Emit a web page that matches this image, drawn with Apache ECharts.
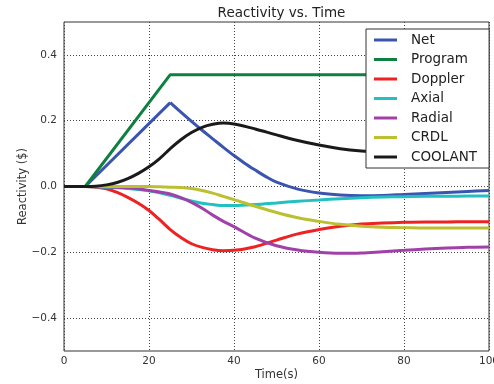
<!DOCTYPE html>
<html>
<head>
<meta charset="utf-8">
<script src="https://cdn.jsdelivr.net/npm/echarts@6/dist/echarts.min.js"></script>
<style>html,body{margin:0;padding:0;background:#fff;}#c{width:494px;height:384px;}</style>
</head>
<body>
<div id="c"></div>
<script>
const seriesNames = ['Net', 'Program', 'Doppler', 'Axial', 'Radial', 'CRDL', 'COOLANT'];
const xTicks = [0, 20, 40, 60, 80, 100];
const yTicks = [-0.4, -0.2, 0.0, 0.2, 0.4];

const tNet = [0, 5, 25, 27.5, 30, 32.5, 35, 37.5, 40, 42.5, 45, 47.5, 50, 55, 60, 65, 70, 75, 80, 85, 90, 95, 100];
const net = [0, 0, 0.255, 0.226, 0.198, 0.171, 0.145, 0.119, 0.094, 0.071, 0.05, 0.03, 0.013, -0.008, -0.02, -0.026, -0.028, -0.027, -0.024, -0.021, -0.018, -0.015, -0.012];

const tProgram = [0, 5, 25, 100];
const program = [0, 0, 0.34, 0.34];

const t = [0, 5, 7.5, 10, 12.5, 15, 17.5, 20, 22.5, 25, 27.5, 30, 32.5, 35, 37.5, 40, 45, 50, 55, 60, 65, 70, 75, 80, 85, 90, 95, 100];
const doppler = [0, 0, -0.002, -0.007, -0.018, -0.033, -0.051, -0.073, -0.101, -0.131, -0.155, -0.174, -0.185, -0.192, -0.195, -0.194, -0.183, -0.163, -0.144, -0.131, -0.121, -0.114, -0.111, -0.109, -0.108, -0.108, -0.107, -0.107];
const axial = [0, 0, -0.001, -0.002, -0.004, -0.006, -0.009, -0.013, -0.019, -0.027, -0.036, -0.044, -0.051, -0.055, -0.058, -0.058, -0.055, -0.05, -0.045, -0.041, -0.037, -0.034, -0.032, -0.031, -0.03, -0.03, -0.029, -0.029];
const radial = [0, 0, 0, -0.001, -0.002, -0.004, -0.007, -0.012, -0.017, -0.023, -0.034, -0.048, -0.066, -0.087, -0.106, -0.122, -0.157, -0.18, -0.193, -0.2, -0.203, -0.202, -0.198, -0.194, -0.19, -0.187, -0.185, -0.184];
const crdl = [0, 0, 0, 0, 0, 0, 0, 0, -0.001, -0.002, -0.003, -0.006, -0.012, -0.02, -0.03, -0.04, -0.06, -0.079, -0.095, -0.106, -0.115, -0.121, -0.124, -0.125, -0.126, -0.126, -0.126, -0.126];
const coolant = [0, 0, 0.001, 0.005, 0.012, 0.024, 0.04, 0.06, 0.085, 0.115, 0.142, 0.164, 0.18, 0.189, 0.193, 0.19, 0.175, 0.157, 0.14, 0.126, 0.115, 0.108, 0.104, 0.101, 0.099, 0.098, 0.097, 0.096];

const colors = ['#3a55b0', '#108040', '#ee2222', '#22c0c0', '#a040a8', '#bcc030', '#1a1a1a'];

function pairs(xs, ys) { return xs.map((x, i) => [x, ys[i]]); }

// Net: straight ramp up to the peak at t=25, smooth decay afterwards
const netRise = pairs(tNet.slice(0, 3), net.slice(0, 3));
const netFall = pairs(tNet.slice(2), net.slice(2));

const dataSets = [
  netRise, pairs(tProgram, program), pairs(t, doppler), pairs(t, axial),
  pairs(t, radial), pairs(t, crdl), pairs(t, coolant)
];
const smoothFlags = [false, false, 0.35, 0.35, 0.35, 0.35, 0.35];

const font = 'DejaVu Sans';
const series = seriesNames.map((name, i) => ({
  name: name, type: 'line', data: dataSets[i],
  smooth: smoothFlags[i], showSymbol: false, symbol: 'none',
  lineStyle: {width: 3, color: colors[i]}, itemStyle: {color: colors[i]}
}));
series.splice(1, 0, {
  name: 'Net', type: 'line', data: netFall, smooth: 0.35, showSymbol: false, symbol: 'none',
  lineStyle: {width: 3, color: colors[0]}, itemStyle: {color: colors[0]}
});

const chart = echarts.init(document.getElementById('c'), null, {renderer: 'canvas'});
chart.setOption({
  animation: false,
  backgroundColor: '#fff',
  color: colors,
  title: {
    text: 'Reactivity vs. Time',
    left: 276.5, top: 1, textAlign: 'center',
    textStyle: {fontFamily: font, fontSize: 13.5, fontWeight: 'normal', color: '#222'}
  },
  legend: {
    data: seriesNames,
    orient: 'vertical',
    left: 366, top: 29,
    padding: [3, 12, 3, 8],
    itemWidth: 23, itemHeight: 3, itemGap: 3.5,
    icon: 'rect',
    backgroundColor: '#fff', borderColor: '#333', borderWidth: 1, borderRadius: 0,
    textStyle: {fontFamily: font, fontSize: 13.5, lineHeight: 16, color: '#222', padding: [0, 0, 0, 9]}
  },
  grid: {
    left: 64, right: 5, top: 22, bottom: 33,
    outerBoundsMode: 'none', containLabel: false,
    show: true, borderColor: '#333', borderWidth: 1, backgroundColor: 'transparent'
  },
  xAxis: {
    type: 'value', min: 0, max: 100, interval: 20,
    name: 'Time(s)', nameLocation: 'middle', nameGap: 18, nameMoveOverlap: false,
    nameTextStyle: {fontFamily: font, fontSize: 11.5, color: '#333'},
    axisLine: {show: false}, axisTick: {show: false},
    axisLabel: {fontFamily: font, fontSize: 10.5, color: '#333', margin: 5,
      customValues: xTicks, formatter: v => String(v)},
    splitLine: {show: true, lineStyle: {color: '#444', type: [1, 2], width: 1}}
  },
  yAxis: {
    type: 'value', min: -0.5, max: 0.5, interval: 0.1,
    name: 'Reactivity ($)', nameLocation: 'middle', nameGap: 35, nameRotate: 90, nameMoveOverlap: false,
    nameTextStyle: {fontFamily: font, fontSize: 11.5, color: '#333'},
    axisLine: {show: false},
    axisTick: {show: false, customValues: yTicks},
    axisLabel: {fontFamily: font, fontSize: 10.5, color: '#333', margin: 7,
      customValues: yTicks,
      formatter: v => (v < 0 ? '\u2212' : '') + Math.abs(v).toFixed(1)},
    splitLine: {show: true, lineStyle: {color: '#444', type: [1, 2], width: 1}}
  },
  series: series
});
</script>
</body>
</html>
